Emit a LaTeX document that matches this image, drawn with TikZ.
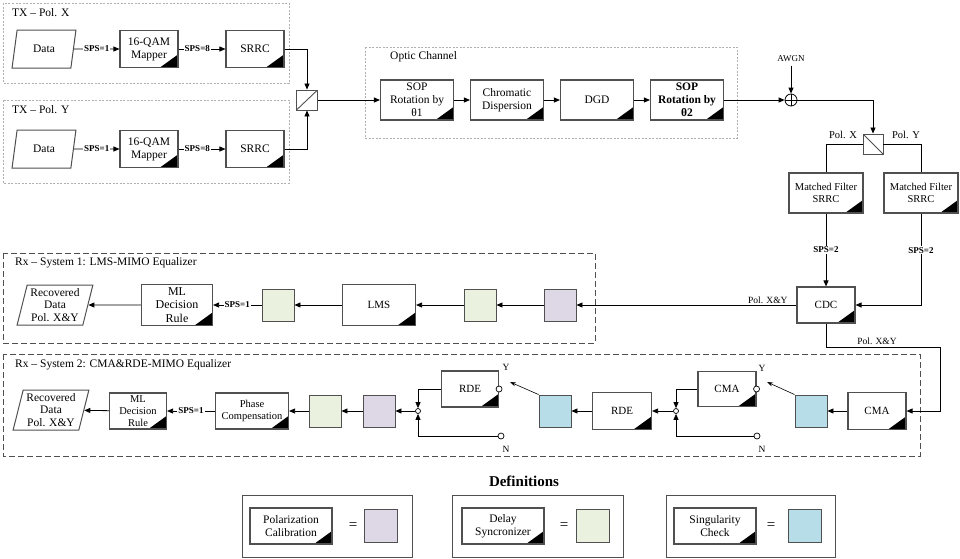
\documentclass[tikz,border=0pt]{standalone}
\usepackage{fontspec}
\setmainfont{Liberation Serif}
\definecolor{calpurple}{RGB}{221,215,230}
\definecolor{delgreen}{RGB}{234,241,222}
\definecolor{chkcyan}{RGB}{183,221,232}
\definecolor{edgegray}{RGB}{80,80,80}
\definecolor{framegray}{RGB}{175,175,175}
\usetikzlibrary{shapes.geometric, arrows.meta, calc}

\begin{document}
\begin{tikzpicture}[x=1pt, y=-1pt,
  blk/.style={draw=edgegray, line width=1.1pt, fill=white, minimum width=73pt, minimum height=40pt, inner sep=1pt, align=center, font=\fontsize{11.5}{13}\selectfont,
    path picture={\fill[black] (path picture bounding box.south east) -- ++(-18pt,0pt) -- ++(18pt,13pt) -- cycle;}},
  sq/.style={draw=edgegray, line width=0.9pt, fill=#1, minimum width=32pt, minimum height=32pt, inner sep=0pt},
  iobox/.style={trapezium, trapezium left angle=75, trapezium right angle=105, trapezium stretches=true, draw=edgegray, line width=1pt, fill=white, minimum width=64pt, minimum height=38pt, inner sep=0pt, align=center, font=\fontsize{11.5}{12.5}\selectfont},
  pbc/.style={draw=edgegray, fill=white, line width=0.9pt, minimum width=21pt, minimum height=20pt, inner sep=0pt, path picture={\draw (path picture bounding box.south west) -- (path picture bounding box.north east);}},
  pbs/.style={draw=edgegray, fill=white, line width=0.9pt, minimum width=20pt, minimum height=20pt, inner sep=0pt, path picture={\draw (path picture bounding box.north west) -- (path picture bounding box.south east);}},
  sig/.style={-{Triangle[length=6pt,width=5pt]}, line width=0.8pt},
  swarrow/.style={-{Stealth[length=6pt,width=4pt]}, line width=0.6pt},
  sps/.style={fill=white, inner sep=1pt, font=\bfseries\fontsize{9}{10}\selectfont},
  polnote/.style={inner sep=1pt, font=\fontsize{9.5}{11}\selectfont},
  ttl/.style={anchor=west, inner sep=0pt, font=\fontsize{11.5}{13}\selectfont},
  txframe/.style={draw=framegray, dash pattern=on 2pt off 1.5pt, line width=0.6pt},
  rxframe/.style={draw=edgegray, dash pattern=on 6pt off 3pt, line width=1pt},
  defframe/.style={draw=edgegray, line width=1pt},
  contact/.style={circle, draw, fill=white, line width=0.7pt, inner sep=0pt, minimum size=6pt},
]
  \useasboundingbox (0,0) rectangle (960,558);

  % transmitter, two polarizations
  \draw[txframe] (3,3) rectangle (289,83);
  \node[ttl] (ttltxx) at (12,13) {TX – Pol. X};
  \node[iobox] (datax) at (44,49) {Data};
  \node[blk, minimum width=58pt, minimum height=37pt] (mapx) at (149,49) {16-QAM\\Mapper};
  \node[blk, minimum width=58pt, minimum height=37pt] (srrcx) at (255,49) {SRRC};
  \draw[sig] (datax) -- node[sps] (spsx1) {SPS=1} (mapx);
  \draw[sig] (mapx) -- node[sps, pos=0.4] (spsx8) {SPS=8} (srrcx);

  \draw[txframe] (3,100) rectangle (289,183);
  \node[ttl] (ttltxy) at (12,110) {TX – Pol. Y};
  \node[iobox] (datay) at (44,149) {Data};
  \node[blk, minimum width=58pt, minimum height=37pt] (mapy) at (149,149) {16-QAM\\Mapper};
  \node[blk, minimum width=58pt, minimum height=37pt] (srrcy) at (255,149) {SRRC};
  \draw[sig] (datay) -- node[sps] (spsy1) {SPS=1} (mapy);
  \draw[sig] (mapy) -- node[sps, pos=0.4] (spsy8) {SPS=8} (srrcy);

  \node[pbc] (comb) at (307,100) {};
  \draw[sig] (srrcx.east) -| (comb.north);
  \draw[sig] (srrcy.east) -| (comb.south);

  % optic channel
  \draw[txframe] (365,47) rectangle (737,138);
  \node[ttl] (ttloc) at (390,57) {Optic Channel};
  \node[blk] (sop1) at (417,100) {SOP\\Rotation by\\θ1};
  \node[blk] (cdisp) at (507,100) {Chromatic\\Dispersion};
  \node[blk] (dgd) at (597,100) {DGD};
  \node[blk, font=\bfseries\fontsize{11.5}{13}\selectfont] (sop2) at (687,100) {SOP\\Rotation by\\θ2};
  \draw[sig] (comb) -- (sop1);
  \draw[sig] (sop1) -- (cdisp);
  \draw[sig] (cdisp) -- (dgd);
  \draw[sig] (dgd) -- (sop2);

  \node[circle, draw, line width=0.8pt, minimum size=12pt, inner sep=0pt] (sum) at (791,100) {};
  \draw[line width=0.8pt] (sum.north) -- (sum.south) (sum.west) -- (sum.east);
  \node[font=\fontsize{9}{10}\selectfont] (awgn) at (791,59) {AWGN};
  \draw[sig] (awgn) -- (sum);
  \draw[sig] (sop2) -- (sum);

  % receiver front end
  \node[pbs] (split) at (873,144) {};
  \draw[sig] (sum.east) -| (split.north);
  \node[polnote, font=\fontsize{10.5}{12}\selectfont] (polx) at (843,135) {Pol. X};
  \node[polnote, font=\fontsize{10.5}{12}\selectfont] (poly) at (906,135) {Pol. Y};
  \node[blk, minimum width=74pt, font=\fontsize{10.5}{12}\selectfont] (mfx) at (826,193) {Matched Filter\\SRRC};
  \node[blk, minimum width=74pt, font=\fontsize{10.5}{12}\selectfont] (mfy) at (921,193) {Matched Filter\\SRRC};
  \draw[line width=0.8pt] (split.west) -| (mfx.north);
  \draw[line width=0.8pt] (split.east) -| (mfy.north);
  \node[blk, minimum width=58pt, minimum height=36pt, font=\fontsize{11}{12}\selectfont] (cdc) at (826,305) {CDC};
  \draw[sig] (mfx) -- node[sps] (spsmx) {SPS=2} (cdc);
  \draw[sig] (mfy.south) |- node[sps, pos=0.2] (spsmy) {SPS=2} (cdc.east);

  % system 1
  \draw[rxframe] (3,253) rectangle (595,343);
  \node[ttl] (ttlrx1) at (15,263) {Rx – System 1: LMS-MIMO Equalizer};
  \node[iobox, minimum width=76pt, minimum height=40pt] (reca) at (55,305) {Recovered\\Data\\Pol. X\&Y};
  \node[blk, minimum width=71pt, minimum height=41pt, font=\fontsize{12}{13.5}\selectfont] (mla) at (177,305) {ML\\Decision\\Rule};
  \node[sq=delgreen] (dsa1) at (278,305) {};
  \node[blk, minimum height=41pt, font=\fontsize{11}{12}\selectfont] (lms) at (379,305) {LMS};
  \node[sq=delgreen] (dsa2) at (480,305) {};
  \node[sq=calpurple] (pca) at (560,305) {};
  \draw[sig] (cdc) -- node[polnote, above, pos=0.13] (pola) {Pol. X\&Y} (pca);
  \draw[sig] (pca) -- (dsa2);
  \draw[sig] (dsa2) -- (lms);
  \draw[sig] (lms) -- (dsa1);
  \draw[sig] (dsa1) -- node[sps] (spsa) {SPS=1} (mla);
  \draw[sig] (mla) -- (reca);

  % system 2
  \draw[rxframe] (3,354) rectangle (920,456);
  \node[ttl] (ttlrx2) at (15,365) {Rx – System 2: CMA\&RDE-MIMO Equalizer};
  \node[iobox, minimum width=76pt, minimum height=40pt] (recb) at (51,410) {Recovered\\Data\\Pol. X\&Y};
  \node[blk, minimum width=57pt, minimum height=36pt, font=\fontsize{10.5}{12}\selectfont] (mlb) at (138,411) {ML\\Decision\\Rule};
  \node[blk, minimum height=36pt, font=\fontsize{10.5}{12}\selectfont] (phase) at (252,411) {Phase\\Compensation};
  \node[sq=delgreen] (dsb) at (325,411) {};
  \node[sq=calpurple] (pcb) at (379,411) {};
  \node[contact, minimum size=5pt] (jb) at (418,411) {};
  \node[blk, minimum width=57pt, minimum height=36pt, font=\fontsize{11}{12}\selectfont] (rdey) at (470,389) {RDE};
  \node[contact] (yb) at (rdey.east) {};
  \node[contact] (nb) at (501,436) {};
  \node[polnote] (ylb) at (506,367) {Y};
  \node[polnote] (nlb) at (506,449) {N};
  \node[sq=chkcyan] (scb) at (555,411) {};
  \node[blk, minimum width=59pt, minimum height=37pt, font=\fontsize{11}{12}\selectfont] (rde) at (622,411) {RDE};
  \node[contact, minimum size=5pt] (ja) at (676,411) {};
  \node[blk, minimum width=58pt, minimum height=35pt, font=\fontsize{11}{12}\selectfont] (cmay) at (727,389) {CMA};
  \node[contact] (ya) at (cmay.east) {};
  \node[contact] (na) at (757,436) {};
  \node[polnote] (yla) at (762,368) {Y};
  \node[polnote] (nla) at (762,449) {N};
  \node[sq=chkcyan] (sca) at (811,411) {};
  \node[blk, minimum width=58pt, minimum height=37pt, font=\fontsize{11}{12}\selectfont] (cma) at (877,411) {CMA};
  \coordinate (loop) at (940,347);
  \coordinate (swa) at (767,382);
  \coordinate (swb) at (510,382);
  \draw[sig] (cdc.south) |- (loop) |- (cma.east);
  \node[polnote] (polb) at (877,341) {Pol. X\&Y};
  \draw[sig] (cma) -- (sca);
  \draw[swarrow] (sca.north west) -- (swa);
  \draw[sig] (cmay.west) -| (ja.north);
  \draw[sig] (na) -| (ja.south);
  \draw[sig] (ja) -- (rde);
  \draw[sig] (rde) -- (scb);
  \draw[swarrow] (scb.north west) -- (swb);
  \draw[sig] (rdey.west) -| (jb.north);
  \draw[sig] (nb) -| (jb.south);
  \draw[sig] (jb) -- (pcb);
  \draw[sig] (pcb) -- (dsb);
  \draw[sig] (dsb) -- (phase);
  \draw[sig] (phase) -- node[sps] (spsb) {SPS=1} (mlb);
  \draw[sig] (mlb) -- (recb);

  % definitions
  \node[font=\bfseries\fontsize{15}{17}\selectfont] (defs) at (524,481) {Definitions};
  \draw[defframe] (242,495) rectangle (412,557);
  \node[blk, minimum width=82pt, minimum height=36pt, font=\fontsize{11.5}{13}\selectfont] (defpc) at (291,526) {Polarization\\Calibration};
  \node[font=\fontsize{15}{15}\selectfont] (eqpc) at (353,526) {=};
  \node[sq=calpurple, minimum width=33pt, minimum height=33pt] (sqpc) at (381,526) {};
  \draw[defframe] (452,495) rectangle (623,557);
  \node[blk, minimum width=82pt, minimum height=36pt, font=\fontsize{11.5}{13}\selectfont] (defds) at (503,526) {Delay\\Syncronizer};
  \node[font=\fontsize{15}{15}\selectfont] (eqds) at (564,526) {=};
  \node[sq=delgreen, minimum width=33pt, minimum height=33pt] (sqds) at (593,526) {};
  \draw[defframe] (666,495) rectangle (835,557);
  \node[blk, minimum width=82pt, minimum height=36pt, font=\fontsize{11.5}{13}\selectfont] (defsc) at (715,526) {Singularity\\Check};
  \node[font=\fontsize{15}{15}\selectfont] (eqsc) at (771,526) {=};
  \node[sq=chkcyan, minimum width=33pt, minimum height=33pt] (sqsc) at (805,526) {};
\end{tikzpicture}
\end{document}
